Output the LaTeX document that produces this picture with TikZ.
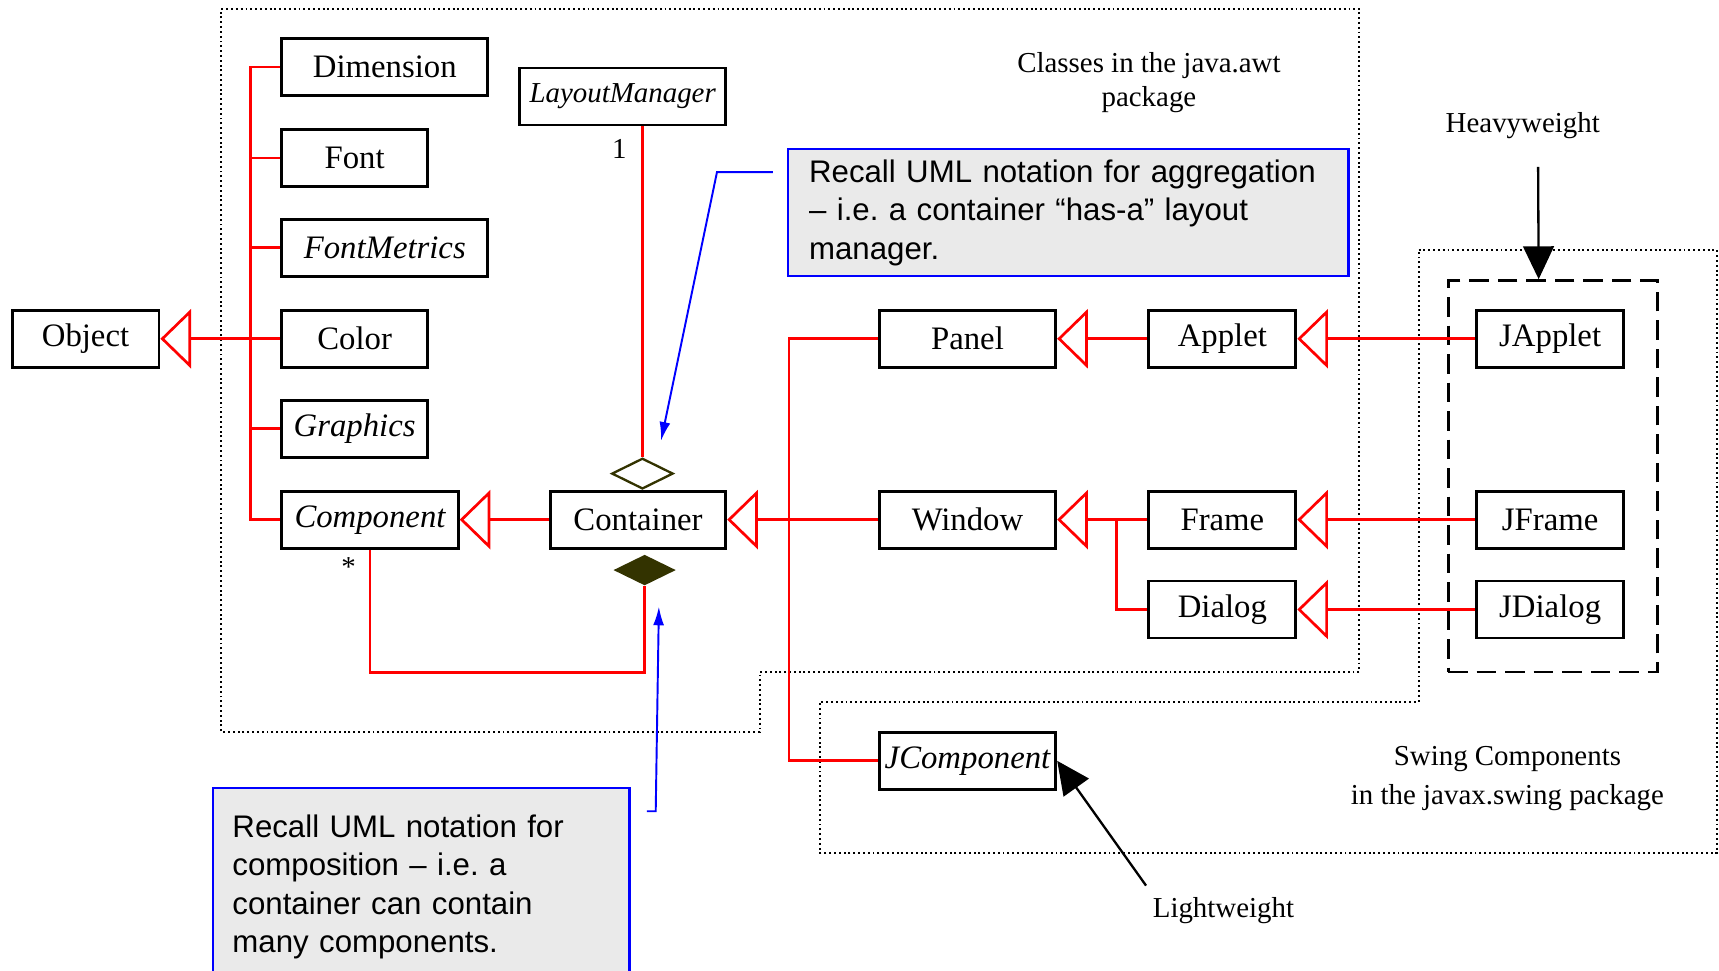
\documentclass[tikz,border=0pt]{standalone}
\usepackage{fontspec}
\setmainfont{Liberation Serif}
\newfontfamily\notefont{Liberation Sans}
\usetikzlibrary{shapes.geometric,arrows.meta,calc,positioning}
\definecolor{notegray}{RGB}{234,234,234}
\definecolor{diamcol}{RGB}{51,51,0}

\begin{document}
\begin{tikzpicture}[x=0.2mm,y=-0.2mm,
    every node/.append style={font=\fontsize{17}{20}\selectfont},
    cls/.style={draw,line width=1.5pt,minimum height=10.4mm,inner sep=0pt},
    lbl/.style={font=\fontsize{15}{17.6}\selectfont,align=center},
    redline/.style={red,line width=1.4pt},
    inherit/.style={redline,-{Triangle[open,length=5.6mm,width=10.8mm]}},
    note/.style={draw=blue,line width=1.2pt,fill=notegray,anchor=north west,
                 font=\notefont\fontsize{16.2}{19.9}\selectfont\frenchspacing,align=left},
    noteline/.style={blue,line width=1pt,-{Latex[length=3.4mm,width=2mm]}},
    pointer/.style={line width=1.2pt,-{Triangle[length=6mm,width=5.6mm]}},
    pkg/.style={line width=1pt,dash pattern=on 1pt off 1.5pt}]
  \useasboundingbox (0,0) rectangle (1568,885);

  \draw[pkg] (202,8) -- (1240,8) -- (1240,613) -- (693,613) -- (693,668) -- (202,668) -- cycle;
  \draw[pkg] (1294,228) -- (1566,228) -- (1566,778) -- (748,778) -- (748,640) -- (1294,640) -- cycle;
  \node[draw,line width=1.5pt,dash pattern=on 3.6mm off 1.6mm,minimum width=38.2mm,
        minimum height=71.4mm] (heavybox) at (1416.5,434.5) {};

  \node[cls,minimum width=26.8mm] (Object) at (78,309) {Object};
  \node[cls,minimum width=37.6mm] (Dimension) at (351,61) {Dimension};
  \node[cls,minimum width=26.6mm] (Font) at (323.5,144) {Font};
  \node[cls,minimum width=37.6mm] (FontMetrics) at (351,226) {\itshape FontMetrics};
  \node[cls,minimum width=26.6mm] (Color) at (323.5,309) {Color};
  \node[cls,minimum width=26.6mm] (Graphics) at (323.5,391) {\itshape Graphics};
  \node[cls,minimum width=32.2mm] (Component) at (337.5,474) {\itshape Component};
  \node[cls,lbl,minimum width=37.6mm] (LayoutManager) at (568,88) {\itshape LayoutManager};
  \node[cls,minimum width=32mm] (Container) at (582,474) {Container};
  \node[cls,minimum width=32.2mm] (Panel) at (882.5,309) {Panel};
  \node[cls,minimum width=26.8mm] (Applet) at (1115,309) {Applet};
  \node[cls,minimum width=32.2mm] (Window) at (882.5,474) {Window};
  \node[cls,minimum width=26.8mm] (Frame) at (1115,474) {Frame};
  \node[cls,minimum width=26.8mm] (Dialog) at (1115,556) {Dialog};
  \node[cls,minimum width=26.8mm] (JApplet) at (1414,309) {JApplet};
  \node[cls,minimum width=26.8mm] (JFrame) at (1414,474) {JFrame};
  \node[cls,minimum width=26.8mm] (JDialog) at (1414,556) {JDialog};
  \node[cls,minimum width=32.2mm] (JComponent) at (882.5,694) {\itshape JComponent};

  \node[diamond,draw=diamcol,line width=1.2pt,minimum width=11.2mm,minimum height=5.6mm,
        inner sep=0pt] (agg) at (586,432) {};
  \node[diamond,fill=diamcol,minimum width=11.4mm,minimum height=5.6mm,
        inner sep=0pt] (comp) at (588,520) {};
  \node[lbl] (one) at (565,136) {1};
  \node[lbl] (many) at (318,517) {*};

  \draw[redline] (Dimension.west) -- ++(-27,0) |- (Component.west);
  \foreach \c in {Font,FontMetrics,Color,Graphics}
    \draw[redline] (\c.west) -- ++(-27,0);
  \draw[inherit] (Color.west) -- (Object.east);
  \draw[inherit] (Container.west) -- (Component.east);
  \draw[inherit] (Window.west) -- (Container.east);
  \draw[redline] (Panel.west) -- ++(-81,0) |- (JComponent.west);
  \draw[inherit] (Applet.west) -- (Panel.east);
  \draw[inherit] (Frame.west) -- (Window.east);
  \draw[redline] (Dialog.west) -- ++(-28,0) |- (Frame.west);
  \draw[inherit] (JApplet.west) -- (Applet.east);
  \draw[inherit] (JFrame.west) -- (Frame.east);
  \draw[inherit] (JDialog.west) -- (Dialog.east);
  \draw[redline] (agg.north) -- (agg.north |- LayoutManager.south);
  \draw[redline] (comp.south) -- ++(0,79) -| (Component.south);

  \node[note,text width=94.6mm,inner xsep=3.8mm,minimum height=23.2mm] (aggnote) at (718,135)
    {Recall UML notation for aggregation\\– i.e. a container “has-a” layout\\manager.};
  \node[note,text width=68.8mm,inner xsep=3.6mm,minimum height=36mm] (compnote) at (193,718)
    {Recall UML notation for\\composition – i.e. a\\container can contain\\many components.};
  \draw[noteline] ($(aggnote.north west)+(-13,22)$) -- ++(-51,0) -- ($(agg.north)+(17,-15)$);
  \draw[noteline] ($(compnote.north east)+(15,22)$) -- ++(8,0) -- ($(comp.south)+(13,19)$);

  \node[lbl] (awtlabel) at (1048,75) {Classes in the java.awt\\package};
  \node[lbl,font=\fontsize{15}{20}\selectfont] (swinglabel) at (1375,710)
    {Swing Components\\in the javax.swing package};
  \node[lbl] (heavy) at (1389,115) {Heavyweight};
  \node[lbl] (light) at (1116,831) {Lightweight};
  \draw[pointer] ($(heavy.south)+(14,19)$) -- ([xshift=-2.6mm]heavybox.north);
  \draw[pointer] ([yshift=1mm]light.north west) -- (JComponent.east);
\end{tikzpicture}
\end{document}
